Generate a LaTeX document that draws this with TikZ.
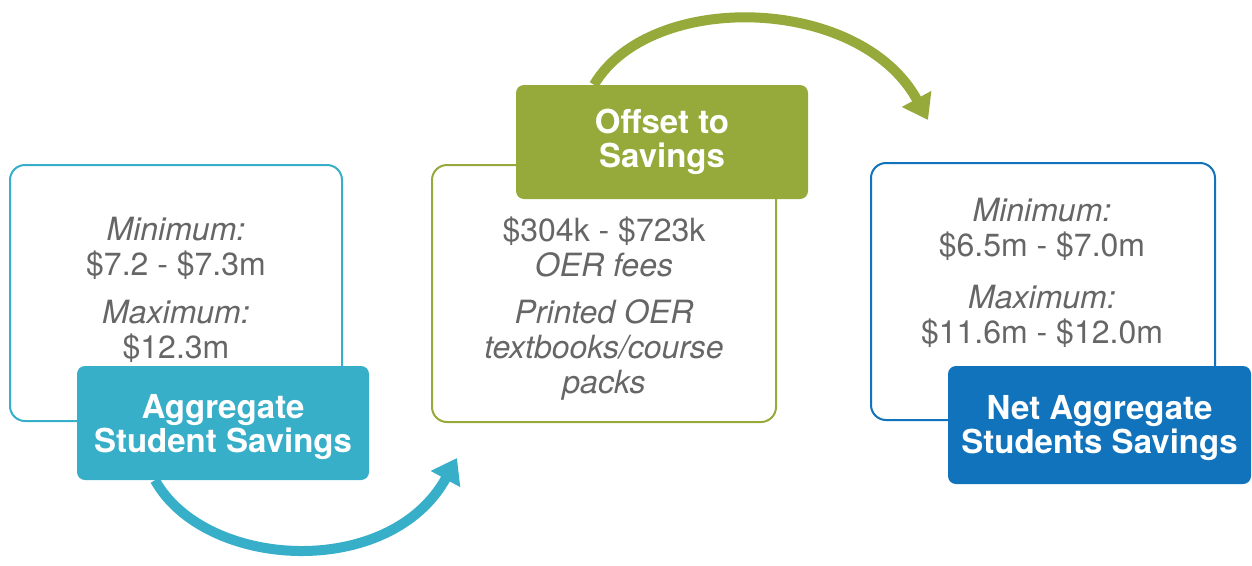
\documentclass[tikz,border=0pt]{standalone}
\usepackage{fontspec}
\setmainfont{TeX Gyre Heros}
\usetikzlibrary{arrows.meta,backgrounds}
\definecolor{aggteal}{RGB}{56,175,201}
\definecolor{offgreen}{RGB}{149,170,58}
\definecolor{netblue}{RGB}{17,115,188}
\definecolor{txtgray}{RGB}{102,102,102}
\tikzset{
  outline/.style={draw=#1, line width=2pt, rounded corners=15pt, fill=white, inner sep=0pt},
  label/.style={fill=#1, rounded corners=8pt, inner sep=0pt, text=white, align=center,
    font=\fontsize{33pt}{34pt}\selectfont\bfseries},
  info/.style={text=txtgray, align=center, font=\fontsize{32pt}{35pt}\selectfont},
  flow/.style={draw=#1, line width=10pt, -{Triangle[width=32pt,length=24pt]}}
}
\begin{document}
\begin{tikzpicture}[x=1pt,y=-1pt]
        \useasboundingbox (0,0) rectangle (1252,565);

        % boxes
        \node[outline=aggteal, minimum width=332pt, minimum height=256pt] (box1) at (176,293) {};
        \node[outline=offgreen, minimum width=344pt, minimum height=257pt] (box2) at (604,293.5) {};
        \node[outline=netblue, minimum width=344pt, minimum height=257pt] (box3) at (1043,291.5) {};

        \node[info] (txt1) at (176,290) {\itshape Minimum:\\ \$7.2 - \$7.3m\\[13pt] \itshape Maximum:\\ \$12.3m};
        \node[info] (txt2) at (604,309) {\$304k - \$723k\\ \itshape OER fees\\[12pt] \itshape Printed OER\\ \itshape textbooks/course\\ \itshape packs};
        \node[info] (txt3) at (1042,273) {\itshape Minimum:\\ \$6.5m - \$7.0m\\[17pt] \itshape Maximum:\\ \$11.6m - \$12.0m};

        % titles
        \node[label=aggteal, minimum width=292pt, minimum height=114pt] (lab1) at (223,423) {\rule{0pt}{33pt}Aggregate\\Student Savings};
        \node[label=offgreen, minimum width=292pt, minimum height=114pt] (lab2) at (662,142) {Offset to\\Savings};
        \node[label=netblue, minimum width=303pt, minimum height=118pt] (lab3) at (1099.5,425) {\rule{0pt}{31pt}Net Aggregate\\Students Savings};

        \coordinate (tip1) at (457,458);
        \coordinate (tip2) at (928,120);

        \begin{scope}[on background layer]
        \draw[flow=aggteal] ([xshift=-68pt]lab1.south) .. controls (205,570) and (390,580) .. (tip1);
        \draw[flow=offgreen] ([xshift=-68pt]lab2.north) .. controls (650,-10) and (860,-5) .. (tip2);
        \end{scope}
\end{tikzpicture}
\end{document}
